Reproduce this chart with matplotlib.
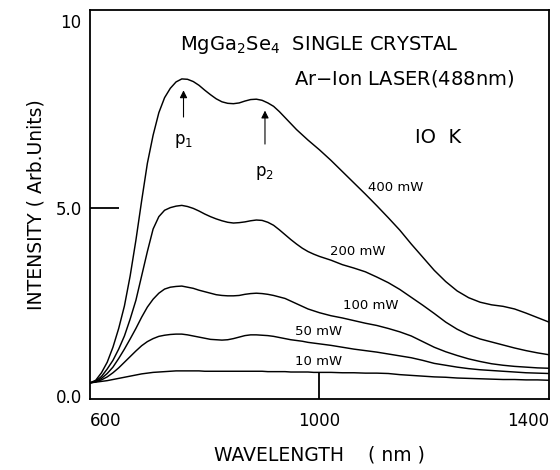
import numpy as np
import matplotlib
matplotlib.use("Agg")
import matplotlib.pyplot as plt

plt.rcParams["font.family"] = ["DejaVu Sans"]
plt.rcParams["mathtext.fontset"] = "dejavusans"

# wavelength grid (nm): 10 nm steps up to 1000, 20 nm steps after
wavelength = list(range(600, 1001, 10)) + list(range(1020, 1401, 20))

# PL intensity (arb. units)
p400 = [0.35, 0.42, 0.62, 0.90, 1.30, 1.80, 2.40, 3.20, 4.15, 5.20,
        6.20, 6.95, 7.55, 7.95, 8.20, 8.37, 8.45, 8.44, 8.38, 8.28,
        8.15, 8.03, 7.92, 7.84, 7.80, 7.79, 7.81, 7.86, 7.90, 7.91,
        7.88, 7.81, 7.72, 7.58, 7.42, 7.26, 7.10, 6.96, 6.82, 6.69, 6.56,
        6.28, 5.98, 5.68, 5.38, 5.07, 4.75, 4.42, 4.05, 3.70, 3.35,
        3.05, 2.80, 2.62, 2.50, 2.43, 2.39, 2.32, 2.21, 2.09, 1.97]
p200 = [0.35, 0.40, 0.52, 0.72, 0.95, 1.25, 1.60, 2.05, 2.55, 3.20,
        3.85, 4.45, 4.78, 4.95, 5.02, 5.06, 5.08, 5.05, 5.00, 4.93,
        4.85, 4.78, 4.72, 4.67, 4.63, 4.61, 4.62, 4.64, 4.67, 4.69,
        4.68, 4.63, 4.55, 4.43, 4.30, 4.17, 4.05, 3.94, 3.85, 3.78, 3.72,
        3.62, 3.50, 3.41, 3.31, 3.17, 3.02, 2.84, 2.63, 2.42, 2.20,
        1.97, 1.78, 1.63, 1.52, 1.44, 1.36, 1.28, 1.21, 1.15, 1.10]
p100 = [0.35, 0.38, 0.47, 0.60, 0.77, 1.00, 1.25, 1.52, 1.80, 2.10,
        2.37, 2.58, 2.74, 2.85, 2.90, 2.92, 2.93, 2.90, 2.87, 2.82,
        2.78, 2.74, 2.70, 2.68, 2.67, 2.67, 2.68, 2.71, 2.73, 2.74,
        2.73, 2.71, 2.68, 2.64, 2.60, 2.53, 2.46, 2.39, 2.32, 2.27, 2.22,
        2.14, 2.08, 2.01, 1.94, 1.88, 1.80, 1.71, 1.60, 1.45, 1.30,
        1.18, 1.08, 0.99, 0.92, 0.86, 0.82, 0.79, 0.77, 0.75, 0.74]
p50 = [0.35, 0.38, 0.43, 0.51, 0.62, 0.75, 0.90, 1.05, 1.20, 1.34,
       1.45, 1.53, 1.59, 1.62, 1.64, 1.65, 1.65, 1.63, 1.60, 1.57,
       1.54, 1.51, 1.50, 1.49, 1.50, 1.53, 1.57, 1.61, 1.63, 1.63,
       1.62, 1.61, 1.59, 1.56, 1.53, 1.50, 1.48, 1.46, 1.43, 1.41, 1.39,
       1.35, 1.30, 1.25, 1.21, 1.17, 1.12, 1.07, 1.02, 0.95, 0.87,
       0.82, 0.77, 0.73, 0.70, 0.68, 0.66, 0.64, 0.62, 0.61, 0.60]
p10 = [0.35, 0.37, 0.39, 0.41, 0.44, 0.47, 0.50, 0.53, 0.56, 0.59,
       0.61, 0.63, 0.64, 0.65, 0.66, 0.67, 0.67, 0.67, 0.67, 0.67,
       0.66, 0.66, 0.66, 0.66, 0.66, 0.66, 0.66, 0.66, 0.66, 0.66,
       0.66, 0.65, 0.65, 0.65, 0.65, 0.64, 0.64, 0.64, 0.64, 0.63, 0.63,
       0.63, 0.62, 0.62, 0.61, 0.61, 0.60, 0.57, 0.55, 0.53, 0.51,
       0.50, 0.48, 0.47, 0.46, 0.45, 0.44, 0.44, 0.43, 0.43, 0.42]

series = [p400, p200, p100, p50, p10]
power_labels = ["400 mW", "200 mW", "100 mW", "50 mW", "10 mW"]
label_pos = [(1085, 5.55), (1018, 3.86), (1041, 2.40), (957, 1.73), (957, 0.93)]

x_ticks = [600, 1000, 1400]
x_ticklabels = ["600", "1000", "1400"]
y_ticks = [0, 5, 10]
y_ticklabels = ["0.0", "5.0", "10"]

fig = plt.figure(figsize=(5.6, 4.7), dpi=100)
ax = fig.add_axes([0.1607, 0.151, 0.8196, 0.828])

for vals in series:
    ax.plot(wavelength, vals, color="black", lw=1.05, solid_joinstyle="round")

for txt, (lx, ly) in zip(power_labels, label_pos):
    ax.text(lx, ly, txt, fontsize=9.5, ha="left", va="center")

# peak markers p1, p2
ax.annotate("", xy=(763, 8.22), xytext=(763, 7.36),
            arrowprops=dict(arrowstyle="-|>", color="black", lw=0.8, mutation_scale=11))
ax.annotate("", xy=(905, 7.68), xytext=(905, 6.64),
            arrowprops=dict(arrowstyle="-|>", color="black", lw=0.8, mutation_scale=11))
ax.text(763, 6.8, "p$_1$", fontsize=12, ha="center", va="center")
ax.text(905, 5.95, "p$_2$", fontsize=12, ha="center", va="center")

ax.text(757, 9.35, "MgGa$_2$Se$_4$  SINGLE CRYSTAL", fontsize=14, ha="left", va="center")
ax.text(955, 8.45, "Ar$-$Ion LASER(488nm)", fontsize=14, ha="left", va="center")
ax.text(1166, 6.9, "IO  K", fontsize=14, ha="left", va="center")

ax.set_xlim(600, 1400)
ax.set_ylim(-0.08, 10.29)
ax.set_xticks(x_ticks)
ax.set_xticklabels(x_ticklabels)
ax.set_yticks(y_ticks)
ax.set_yticklabels(y_ticklabels)
ax.tick_params(axis="x", direction="in", length=19, width=1.3, labelsize=12, pad=9)
ax.tick_params(axis="y", direction="in", length=21, width=1.3, labelsize=12, pad=6)
for i in (0, 2):
    ax.xaxis.get_major_ticks()[i].tick1line.set_visible(False)
    ax.yaxis.get_major_ticks()[i].tick1line.set_visible(False)
xl = ax.get_xticklabels()
xl[0].set_ha("left")
xl[2].set_ha("right")

for s in ax.spines.values():
    s.set_linewidth(1.3)

ax.set_xlabel("WAVELENGTH    ( nm )", fontsize=13.5)
ax.set_ylabel("INTENSITY ( Arb.Units)", fontsize=13.5)
ax.xaxis.set_label_coords(0.5, -0.12)
ax.yaxis.set_label_coords(-0.098, 0.5)

fig.savefig("out.png", dpi=100)
